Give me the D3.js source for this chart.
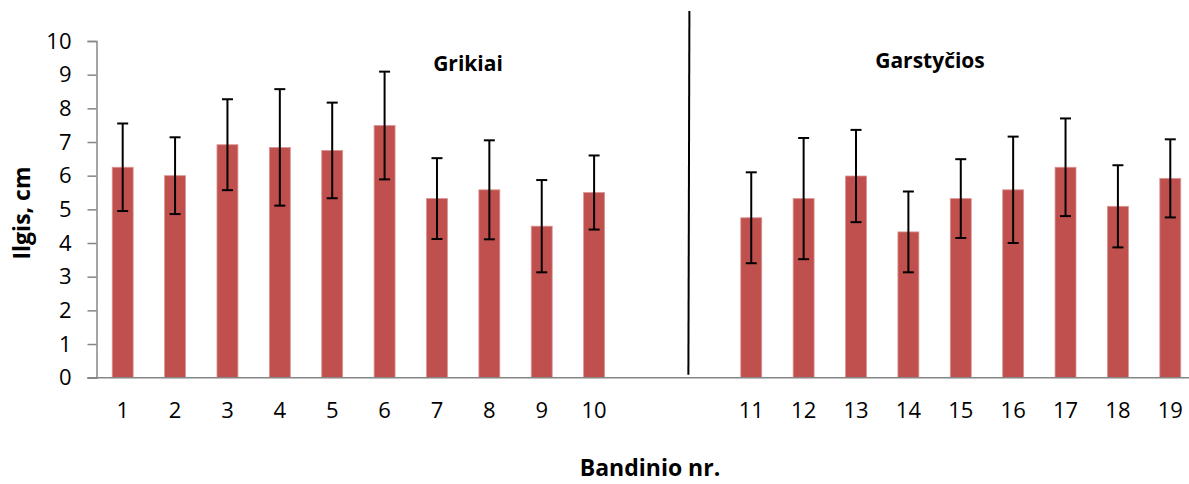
<!DOCTYPE html>
<html>
<head>
<meta charset="utf-8">
<script src="https://cdn.jsdelivr.net/npm/d3@7"></script>
<style>
  html, body { margin: 0; padding: 0; background: #fff; }
  svg { display: block; }
  text { font-family: "Open Sans", "Liberation Sans", sans-serif; fill: #000; }
</style>
</head>
<body>
<svg id="chart" width="1189" height="484"></svg>
<script>
// ---- data ----
const categories = ["1","2","3","4","5","6","7","8","9","10","gap-a","gap-b","11","12","13","14","15","16","17","18","19"];
const tickLabels = ["1","2","3","4","5","6","7","8","9","10","","","11","12","13","14","15","16","17","18","19"];
const means  = [6.25, 6.00, 6.92, 6.84, 6.75, 7.49, 5.32, 5.58, 4.50, 5.50, null, null, 4.75, 5.32, 5.99, 4.33, 5.32, 5.58, 6.25, 5.09, 5.92];
const errors = [1.30, 1.14, 1.35, 1.73, 1.42, 1.60, 1.20, 1.47, 1.37, 1.10, null, null, 1.35, 1.80, 1.37, 1.20, 1.17, 1.58, 1.45, 1.22, 1.16];
const yTicks = [0,1,2,3,4,5,6,7,8,9,10];
const groupLabels = ["Grikiai", "Garstyčios"];
const yTitle = "Ilgis, cm";
const xTitle = "Bandinio nr.";

// ---- layout ----
const W = 1189, H = 484;
const mLeft = 96.5, mTop = 41, mBottom = 377.7;
const step = 52.38;
const mRight = mLeft + step * categories.length;

const svg = d3.select("#chart");

const x = d3.scaleBand()
  .domain(categories)
  .range([mLeft, mRight])
  .paddingInner(0.6)
  .paddingOuter(0.3);

const y = d3.scaleLinear().domain([0, 10]).range([mBottom, mTop]);

const rows = categories.map((c, i) => ({ c, m: means[i], e: errors[i] })).filter(d => d.m != null);

// bars
svg.append("g").selectAll("rect").data(rows).join("rect")
  .attr("x", d => x(d.c))
  .attr("y", d => y(d.m))
  .attr("width", x.bandwidth())
  .attr("height", d => y(0) - y(d.m))
  .attr("fill", "#C0504D")
  .attr("stroke", "#D99694")
  .attr("stroke-width", 0.8);

// error bars
const eb = svg.append("g").attr("stroke", "#000").attr("stroke-width", 2);
const cx = d => x(d.c) + x.bandwidth() / 2;
eb.selectAll("line.v").data(rows).join("line").attr("class", "v")
  .attr("x1", cx).attr("x2", cx)
  .attr("y1", d => y(d.m + d.e)).attr("y2", d => y(d.m - d.e));
eb.selectAll("line.t").data(rows).join("line").attr("class", "t")
  .attr("x1", d => cx(d) - 5.5).attr("x2", d => cx(d) + 5.5)
  .attr("y1", d => y(d.m + d.e)).attr("y2", d => y(d.m + d.e));
eb.selectAll("line.b").data(rows).join("line").attr("class", "b")
  .attr("x1", d => cx(d) - 5.5).attr("x2", d => cx(d) + 5.5)
  .attr("y1", d => y(d.m - d.e)).attr("y2", d => y(d.m - d.e));

// y axis
const yAxis = svg.append("g")
  .attr("transform", `translate(${mLeft},0)`)
  .call(d3.axisLeft(y).tickValues(yTicks).tickFormat(d3.format("d")).tickSize(9).tickPadding(16));
yAxis.select(".domain").attr("stroke", "#868686").attr("stroke-width", 1.5);
yAxis.selectAll(".tick line").attr("stroke", "#868686").attr("stroke-width", 1.5);
yAxis.selectAll(".tick text").attr("font-size", 22).attr("font-family", "Open Sans").attr("fill", "#000");

// x axis
const xAxis = svg.append("g")
  .attr("transform", `translate(0,${mBottom})`)
  .call(d3.axisBottom(x).tickFormat((d, i) => tickLabels[i]).tickSize(0).tickPadding(25));
xAxis.select(".domain").attr("d", `M${mLeft - 9},0H${W}`).attr("stroke", "#868686").attr("stroke-width", 1.5);
xAxis.selectAll(".tick text").attr("font-size", 22).attr("font-family", "Open Sans").attr("fill", "#000");

// divider between the two groups
const divX = mLeft + step * 11.3;
svg.append("line")
  .attr("x1", divX + 1).attr("y1", y(10) - 30)
  .attr("x2", divX).attr("y2", y(0) - 3)
  .attr("stroke", "#000").attr("stroke-width", 2);

// group labels
svg.append("text").attr("x", 468).attr("y", 64).attr("dy", "0.35em")
  .attr("text-anchor", "middle").attr("font-weight", "bold").attr("font-size", 21)
  .text(groupLabels[0]);
svg.append("text").attr("x", 930).attr("y", 61).attr("dy", "0.35em")
  .attr("text-anchor", "middle").attr("font-weight", "bold").attr("font-size", 21)
  .text(groupLabels[1]);

// axis titles
svg.append("text")
  .attr("transform", `translate(22,213) rotate(-90)`)
  .attr("dy", "0.35em")
  .attr("text-anchor", "middle").attr("font-weight", "bold").attr("font-size", 23)
  .text(yTitle);
svg.append("text").attr("x", 650).attr("y", 468).attr("dy", "0.35em")
  .attr("text-anchor", "middle").attr("font-weight", "bold").attr("font-size", 23)
  .text(xTitle);
</script>
</body>
</html>
